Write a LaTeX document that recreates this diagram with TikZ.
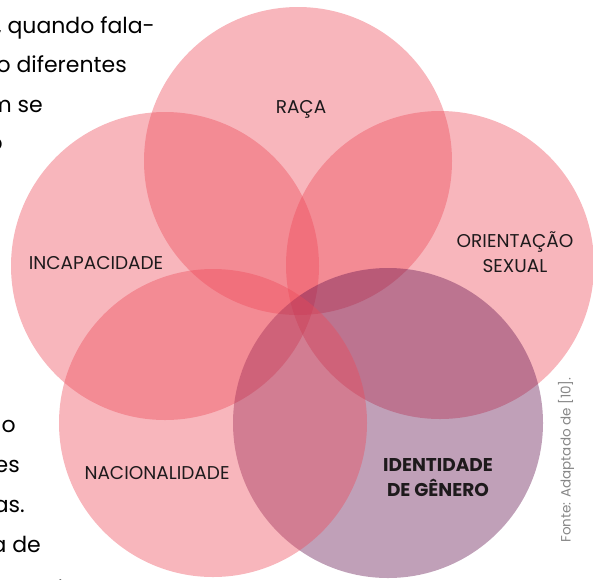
\documentclass[tikz,border=0pt]{standalone}
\usepackage{fontspec}
\setmainfont{Poppins}
\usepackage{xcolor}
\usepackage{tikz}

\definecolor{rosa}{RGB}{237,73,88}
\definecolor{roxo}{RGB}{98,18,78}
\definecolor{tinta}{RGB}{30,26,28}
\definecolor{fonte}{RGB}{135,135,135}

\begin{document}
\begin{tikzpicture}[x=1pt, y=-1pt,
    petala/.style={fill=rosa, fill opacity=0.4},
    petalaroxa/.style={fill=roxo, fill opacity=0.4},
    rotulo/.style={text=tinta, font=\fontsize{18.5}{25.5}\selectfont, align=center, inner sep=0pt},
    corpo/.style={text=black, font=\fontsize{22}{22}\selectfont, anchor=base east, inner sep=0pt}]
    \useasboundingbox (0,0) rectangle (593,579);
    \clip (0,0) rectangle (593,579);

    % centros dos circulos
    \coordinate (craca) at (298,161);
    \coordinate (cincap) at (165,266);
    \coordinate (corient) at (440,265);
    \coordinate (cident) at (388,423);
    \coordinate (cnacion) at (213,423);

    % texto corrido cortado a esquerda
    \node[corpo] (l1) at (155,33) {, quando fala-};
    \node[corpo] (l2) at (127,72) {no diferentes};
    \node[corpo] (l3) at (43,112) {m se};
    \node[corpo] (l4) at (3,150) {o};
    \node[corpo] (l5) at (16,432) {no};
    \node[corpo] (l6) at (20,472) {es};
    \node[corpo] (l7) at (25,512) {as.};
    \node[corpo] (l8) at (41,552) {a de};
    \node[corpo] (l9) at (63,582) {.};

    % circulos
    \foreach \c in {craca,cincap,corient}
    {
        \fill[petala] (\c) circle (154);
    }
    \fill[petalaroxa] (cident) circle (155);
    \fill[petala] (cnacion) circle (154);

    % rotulos
    \node[rotulo, anchor=base] (raca) at (301,113) {RAÇA};
    \node[rotulo, anchor=base] (incap) at (96,269) {INCAPACIDADE};
    \node[rotulo] (orient) at (515,252) {ORIENTAÇÃO\\SEXUAL};
    \node[rotulo, anchor=base] (nacion) at (157,479) {NACIONALIDADE};
    \node[rotulo, font=\fontsize{18.5}{25}\selectfont\bfseries] (ident) at (438,478) {IDENTIDADE\\DE GÊNERO};

    % fonte
    \node[text=fonte, font=\fontsize{13.5}{13.5}\selectfont, rotate=90, inner sep=0pt] (fonte) at (566,460) {Fonte: Adaptado de [10].};
\end{tikzpicture}
\end{document}
